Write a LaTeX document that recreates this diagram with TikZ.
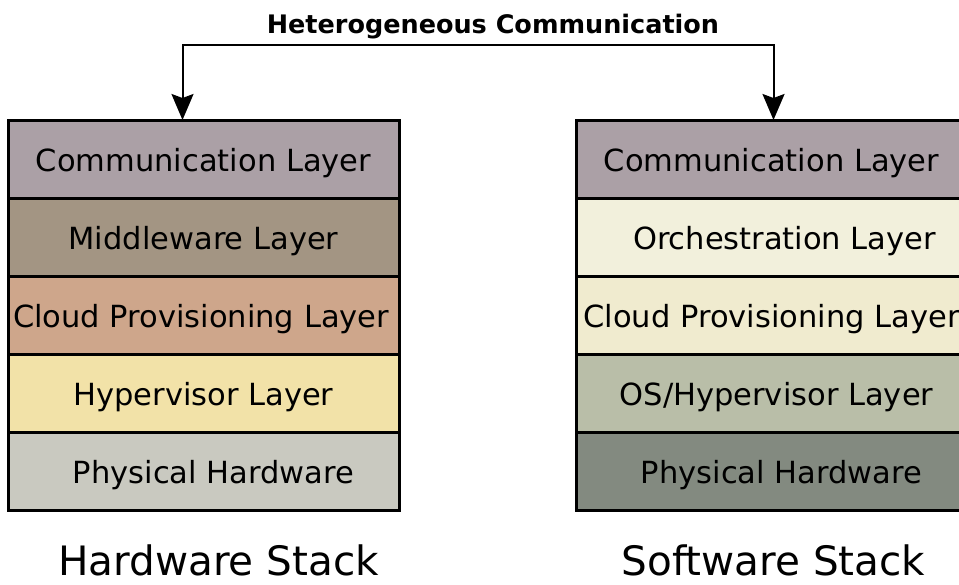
\documentclass[tikz,border=0pt]{standalone}
\usepackage{fontspec}
\setmainfont{DejaVu Sans}
\usepackage{tikz}
\usetikzlibrary{arrows.meta,positioning,calc}
\definecolor{commcol}{HTML}{ABA0A6}
\definecolor{midcol}{HTML}{A39583}
\definecolor{cloudhw}{HTML}{CEA68B}
\definecolor{hypcol}{HTML}{F2E2A8}
\definecolor{physhw}{HTML}{C9C9C0}
\definecolor{orchcol}{HTML}{F2F0DC}
\definecolor{cloudsw}{HTML}{F0EBCF}
\definecolor{oshyp}{HTML}{B9BEA8}
\definecolor{physsw}{HTML}{838A80}
\tikzset{
layer/.style = {draw, line width=3pt, rectangle, minimum width=391pt, minimum height=78pt, inner sep=0pt, outer sep=0pt, text height=25pt, text depth=0pt, font=\fontsize{30.5}{36}\selectfont},
stacklabel/.style = {inner sep=0pt, font=\fontsize{40.5}{48}\selectfont},
headline/.style = {inner sep=0pt, font=\fontsize{25.5}{30}\selectfont\bfseries},
link/.style = {line width=2pt, {Stealth[length=26pt,width=22pt,inset=4pt]}-{Stealth[length=26pt,width=22pt,inset=4pt]}}
}
\begin{document}
\begin{tikzpicture}[x=1pt, y=-1pt, node distance=0pt]
		\useasboundingbox (0,0) rectangle (959,584);
		\clip (0,0) rectangle (959,584);

		% hardware stack
		\node [layer, fill=commcol, anchor=north west] (hwcomm) at (8,120) {Communication Layer};
		\node [layer, fill=midcol, below=of hwcomm] (hwmid) {Middleware Layer};
		\node [layer, fill=cloudhw, below=of hwmid] (hwcloud) {Cloud Provisioning Layer\hspace*{5pt}};
		\node [layer, fill=hypcol, below=of hwcloud] (hwhyp) {Hypervisor Layer};
		\node [layer, fill=physhw, below=of hwhyp] (hwphys) {\hspace*{20pt}Physical Hardware};
		\node [stacklabel, anchor=base] (hwname) at ($(hwphys.south)+(15,65)$) {Hardware Stack};

		% software stack
		\node [layer, fill=commcol, anchor=north west] (swcomm) at (576,120) {Communication Layer};
		\node [layer, fill=orchcol, below=of swcomm] (sworch) {\hspace*{26pt}Orchestration Layer};
		\node [layer, fill=cloudsw, below=of sworch] (swcloud) {Cloud Provisioning Layer};
		\node [layer, fill=oshyp, below=of swcloud] (swos) {\hspace*{10pt}OS/Hypervisor Layer};
		\node [layer, fill=physsw, below=of swos] (swphys) {\hspace*{20pt}Physical Hardware};
		\node [stacklabel, anchor=base] (swname) at ($(swphys.south)+(2,65)$) {Software Stack};

		\node [headline, anchor=base] (comm) at (493,33) {Heterogeneous Communication};
		\draw [link] ([xshift=-21pt]hwcomm.north) -- ++(0,-75) -| ([xshift=2pt]swcomm.north);
\end{tikzpicture}
\end{document}
